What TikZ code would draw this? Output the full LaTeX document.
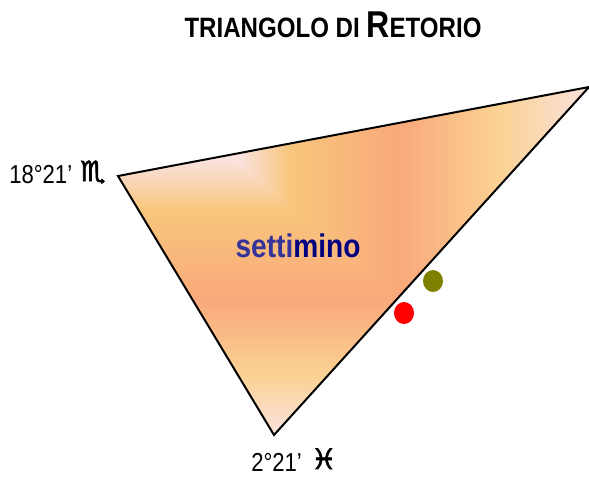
\documentclass[tikz,border=0pt]{standalone}
\usepackage{fontspec}
\setmainfont{Liberation Sans}
\newfontfamily\narrowfont[FakeStretch=0.85]{Liberation Sans}
\newfontfamily\narrowbold[FakeStretch=0.86]{Liberation Sans Bold}
\newfontfamily\signfont[FakeBold=2.5]{DejaVu Sans Bold}
\usetikzlibrary{positioning,shapes.geometric}
\definecolor{salmon}{HTML}{F9A97A}
\definecolor{sand}{HTML}{F8C67C}
\definecolor{paleyellow}{HTML}{FAD294}
\definecolor{blush}{HTML}{FAE2DE}
\definecolor{settiblue}{HTML}{333399}
\definecolor{minoblue}{HTML}{000080}
\definecolor{olivedot}{HTML}{808000}
% colour bands of the triangle, see the rectangle they are laid on below
\pgfdeclarehorizontalshading{bandx}{100bp}{color(0bp)=(blush); color(40.4bp)=(blush); color(45.2bp)=(sand); color(55.8bp)=(salmon); color(65.4bp)=(paleyellow); color(74bp)=(blush); color(100bp)=(blush)}
\pgfdeclareverticalshading{bandy}{100bp}{color(0bp)=(blush); color(26.8bp)=(blush); color(33.9bp)=(paleyellow); color(42.9bp)=(salmon); color(53.6bp)=(sand); color(59.5bp)=(blush); color(100bp)=(blush)}
\tikzset{
  degree/.style={anchor=base west, inner sep=0pt, font=\narrowfont\fontsize{19.5}{22}\selectfont},
  sign/.style={anchor=base west, inner sep=0pt, font=\signfont\fontsize{21}{24}\selectfont},
  planet/.style={ellipse, minimum width=15pt, minimum height=16.5pt, inner sep=0pt}
}
\begin{document}
\begin{tikzpicture}[x=0.75pt,y=-0.75pt]
  \useasboundingbox (0,0) rectangle (589,479);
  % Define points
  \coordinate (virgo) at (118,176);
  \coordinate (top) at (589,87);
  \coordinate (pisces) at (274,435);
  % Fill the triangle
  \begin{scope}
    \clip (virgo) -- (top) -- (pisces) -- cycle;
    \shade[shading=bandx] (80,30) rectangle (600,450);
    \clip (400,300) -- (80,30) -- (80,450) -- (600,450) -- (600,300) -- cycle;
    \shade[shading=bandy] (80,30) rectangle (600,450);
  \end{scope}
  \draw[line width=1.5pt, miter limit=20] (virgo) -- (top) -- (pisces) -- cycle;
  % Title
  \node[anchor=base, inner sep=0pt] (title) at (333,37)
    {\narrowbold\fontsize{21}{24}\selectfont TRIANGOLO DI \fontsize{28}{30}\selectfont R\fontsize{21}{24}\selectfont ETORIO};
  % Labels
  \node[degree] (deg18) at (9,183) {18°21’};
  \node[sign] (virgosign) at (80,181) {♏};
  \node[degree] (deg2) at (251,471) {2°21’};
  \node[sign] (piscessign) at (311,469) {♓};
  \node[anchor=base, inner sep=0pt, font=\narrowbold\fontsize{24.5}{28}\selectfont] (settimino) at (298,257)
    {\textcolor{settiblue}{setti}\textcolor{minoblue}{mino}};
  % Planets
  \node[planet, fill=red] (redplanet) at (404,313) {};
  \node[planet, fill=olivedot] (oliveplanet) at (433,281) {};
\end{tikzpicture}
\end{document}
